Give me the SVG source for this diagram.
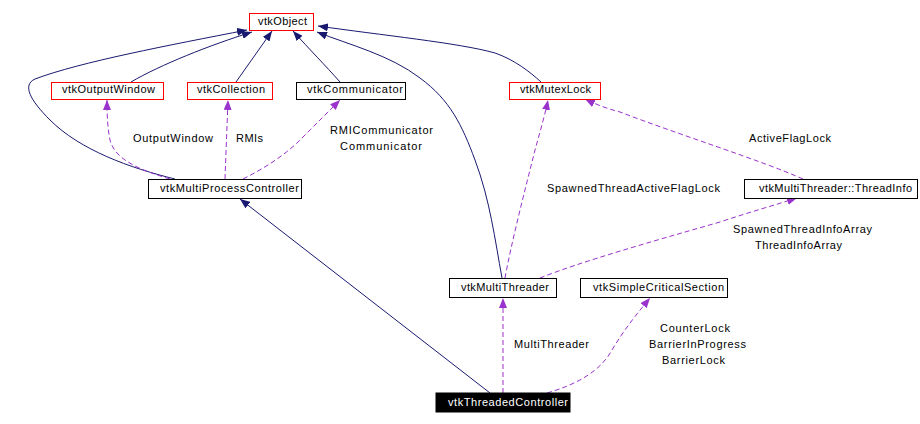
<svg xmlns="http://www.w3.org/2000/svg" width="920" height="424" viewBox="0 0 920 424">
<style>
  text { font-family: "Liberation Sans", Arial, sans-serif; font-size: 11px; fill: #000; }
  .node rect { fill: #fff; stroke: #000; stroke-width: 1; }
  .node.red rect { stroke: #ff0000; }
  .node.sel rect { fill: #000; stroke: #000; }
  .node.sel text { fill: #fff; }
  .inh { fill: none; stroke: #191970; stroke-width: 1; marker-end: url(#ah); }
  .use { fill: none; stroke: #9a32cd; stroke-width: 1; stroke-dasharray: 5,3; marker-end: url(#ap); }
</style>
<defs>
  <marker id="ah" markerUnits="userSpaceOnUse" markerWidth="11" markerHeight="8" refX="10" refY="4" orient="auto" viewBox="0 0 11 8">
    <path d="M0,0 L10,4 L0,8 z" fill="#191970"/>
  </marker>
  <marker id="ap" markerUnits="userSpaceOnUse" markerWidth="11" markerHeight="8" refX="10" refY="4" orient="auto" viewBox="0 0 11 8">
    <path d="M0,0 L10,4 L0,8 z" fill="#9a32cd"/>
  </marker>
</defs>
<rect width="920" height="424" fill="#fff"/>
<g id="connectors">
  <path class="inh" d="M175,179 C130,168 80,150 50,120 C30,100 22,85 35,79 C80,62 170,45 247,30"/>
  <path class="inh" d="M131,82 C160,65 210,45 252,32"/>
  <path class="inh" d="M236,82 L272,31"/>
  <path class="inh" d="M340,82 C325,65 310,50 293,31"/>
  <path class="inh" d="M502,278 C495,240 490,200 475,160 C462,125 450,100 420,78 C390,55 350,45 317,32"/>
  <path class="inh" d="M541,82 C530,72 515,60 495,53 C460,43 380,35 318,26"/>
  <path class="inh" d="M490,393 L240,199"/>
  <path class="use" d="M170,179 C140,170 115,160 110,140 C107,125 107,110 107,100"/>
  <path class="use" d="M225,179 L228,100"/>
  <path class="use" d="M243,179 C265,168 285,155 300,140 C315,125 330,110 340,100"/>
  <path class="use" d="M505,278 C512,240 525,190 535,150 C542,125 546,110 548,100"/>
  <path class="use" d="M803,179 C760,160 680,135 620,112 C605,108 595,104 585,99"/>
  <path class="use" d="M540,278 C580,262 650,242 720,222 C750,212 775,205 797,198"/>
  <path class="use" d="M503,393 L503,298"/>
  <path class="use" d="M547,393 C575,385 600,372 612,350 C625,328 640,310 650,298"/>
  <text x="133" y="142" textLength="80" lengthAdjust="spacing">OutputWindow</text>
  <text x="236" y="142" textLength="27" lengthAdjust="spacing">RMIs</text>
  <text x="330" y="134" textLength="103" lengthAdjust="spacing">RMICommunicator</text>
  <text x="340" y="150" textLength="82" lengthAdjust="spacing">Communicator</text>
  <text x="749" y="142" textLength="82" lengthAdjust="spacing">ActiveFlagLock</text>
  <text x="547" y="192" textLength="173" lengthAdjust="spacing">SpawnedThreadActiveFlagLock</text>
  <text x="733" y="233" textLength="139" lengthAdjust="spacing">SpawnedThreadInfoArray</text>
  <text x="755" y="249" textLength="87" lengthAdjust="spacing">ThreadInfoArray</text>
  <text x="514" y="348" textLength="75" lengthAdjust="spacing">MultiThreader</text>
  <text x="660" y="332" textLength="70" lengthAdjust="spacing">CounterLock</text>
  <text x="649" y="348" textLength="97" lengthAdjust="spacing">BarrierInProgress</text>
  <text x="662" y="364" textLength="63" lengthAdjust="spacing">BarrierLock</text>
</g>
<g id="vtkObject" class="node red"><rect x="249.5" y="13.5" width="64" height="17"/><text x="258" y="25" textLength="49" lengthAdjust="spacing">vtkObject</text></g>
<g id="vtkOutputWindow" class="node red"><rect x="51.5" y="82.5" width="112" height="17"/><text x="62" y="93" textLength="93" lengthAdjust="spacing">vtkOutputWindow</text></g>
<g id="vtkCollection" class="node red"><rect x="187.5" y="82.5" width="85" height="17"/><text x="197" y="93" textLength="68" lengthAdjust="spacing">vtkCollection</text></g>
<g id="vtkCommunicator" class="node"><rect x="296.5" y="82.5" width="109" height="17"/><text x="307" y="93" textLength="96" lengthAdjust="spacing">vtkCommunicator</text></g>
<g id="vtkMutexLock" class="node red"><rect x="509.5" y="82.5" width="91" height="17"/><text x="520" y="93" textLength="71" lengthAdjust="spacing">vtkMutexLock</text></g>
<g id="vtkMultiProcessController" class="node"><rect x="148.5" y="179.5" width="153" height="19"/><text x="160" y="192" textLength="139" lengthAdjust="spacing">vtkMultiProcessController</text></g>
<g id="vtkMultiThreaderThreadInfo" class="node"><rect x="744.5" y="179.5" width="173" height="19"/><text x="759" y="192" textLength="153" lengthAdjust="spacing">vtkMultiThreader::ThreadInfo</text></g>
<g id="vtkMultiThreader" class="node"><rect x="449.5" y="278.5" width="107" height="19"/><text x="461" y="291" textLength="88" lengthAdjust="spacing">vtkMultiThreader</text></g>
<g id="vtkSimpleCriticalSection" class="node"><rect x="580.5" y="278.5" width="147" height="19"/><text x="593" y="291" textLength="131" lengthAdjust="spacing">vtkSimpleCriticalSection</text></g>
<g id="vtkThreadedController" class="node sel"><rect x="436" y="393" width="134" height="19"/><text x="448" y="406" textLength="120" lengthAdjust="spacing">vtkThreadedController</text></g>
</svg>
